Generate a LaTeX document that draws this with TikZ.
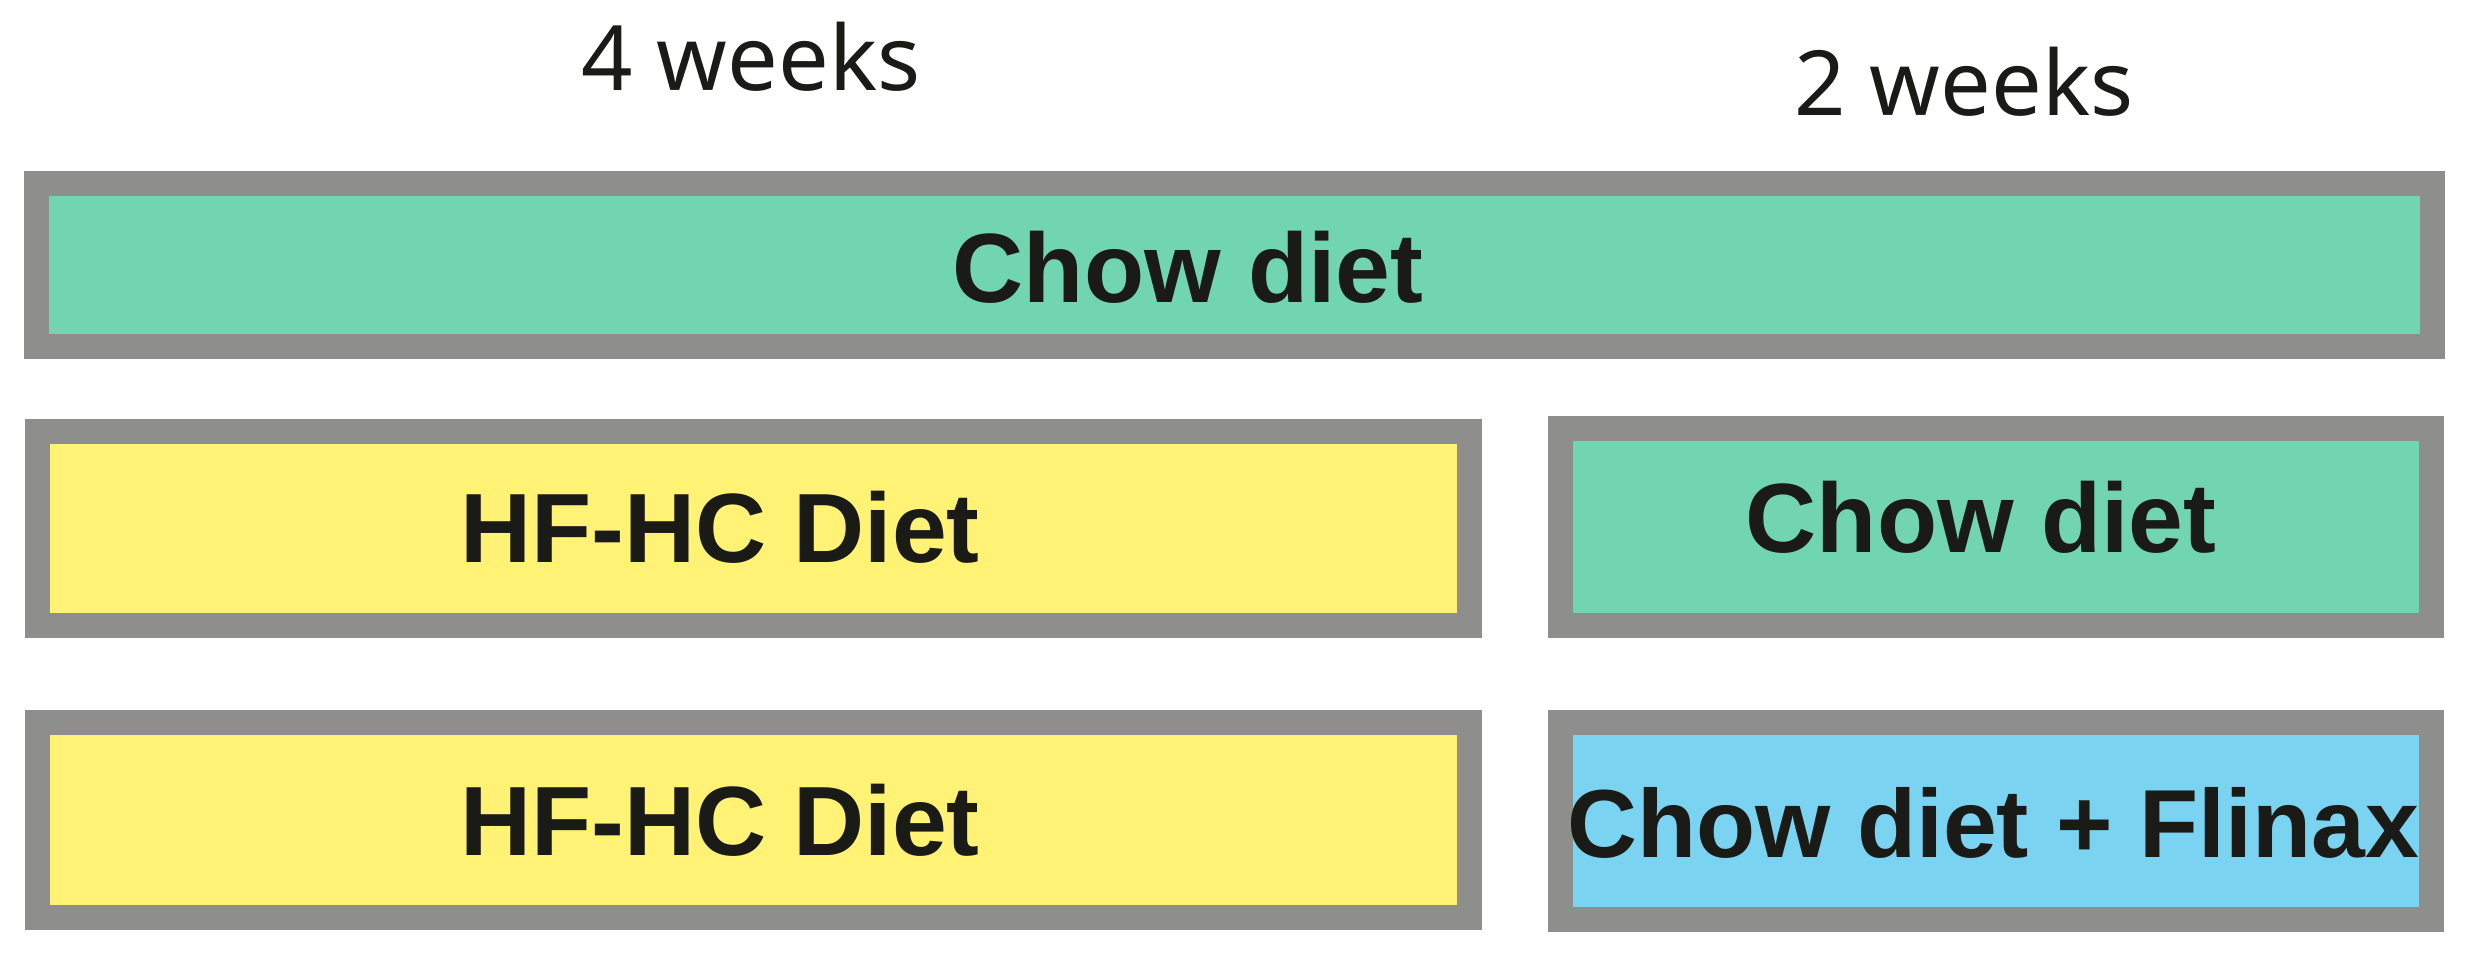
\documentclass[tikz,border=0pt]{standalone}
\usepackage{fontspec}
\setmainfont{Liberation Sans}
\newfontfamily\weekfont{Noto Sans}
\usepackage{tikz}
\usetikzlibrary{positioning}

\definecolor{chowgreen}{RGB}{114,213,177}
\definecolor{hfyellow}{RGB}{255,242,117}
\definecolor{flinaxblue}{RGB}{122,211,240}
\definecolor{rimgray}{RGB}{142,142,140}
\definecolor{inkblack}{RGB}{26,26,22}

\begin{document}
\begin{tikzpicture}[
		x=0.01cm, y=-0.01cm,
		dietbox/.style={rectangle,draw=rimgray,line width=0.25cm,inner sep=0pt},
		diettext/.style={anchor=base,inner sep=0pt,text=inkblack,font=\fontsize{28}{30}\selectfont\bfseries},
		weektext/.style={anchor=base,inner sep=0pt,text=inkblack,font=\weekfont\fontsize{25.6}{28}\selectfont}]
	\useasboundingbox (0,0) rectangle (2466,964);
	%% period labels
	\node (fourwk) at (751,91) [weektext] {4 weeks};
	\node (twowk) at (1964,116) [weektext] {2 weeks};
	%% control group
	\node (chowall) at (1234.5,265) [dietbox,fill=chowgreen,minimum width=23.94cm,minimum height=1.63cm] {};
	\node (chowalltxt) at (1188,303) [diettext] {Chow diet};
	%% HF-HC then chow
	\node (hfhcA) at (753.5,528.5) [dietbox,fill=hfyellow,minimum width=14.32cm,minimum height=1.94cm] {};
	\node (chowB) at (1996,527) [dietbox,fill=chowgreen,minimum width=8.71cm,minimum height=1.97cm] {};
	\node (hfhcAtxt) at (720,563) [diettext] {HF-HC Diet};
	\node (chowBtxt) at (1981,553) [diettext] {Chow diet};
	%% HF-HC then chow + Flinax
	\node (hfhcB) at (753.5,820) [dietbox,fill=hfyellow,minimum width=14.32cm,minimum height=1.95cm] {};
	\node (flinax) at (1996,821) [dietbox,fill=flinaxblue,minimum width=8.71cm,minimum height=1.97cm] {};
	\node (hfhcBtxt) at (720,855) [diettext] {HF-HC Diet};
	\node (flinaxtxt) at (1993,857) [diettext,font=\fontsize{27.5}{30}\selectfont\bfseries] {Chow diet + Flinax};
\end{tikzpicture}
\end{document}
